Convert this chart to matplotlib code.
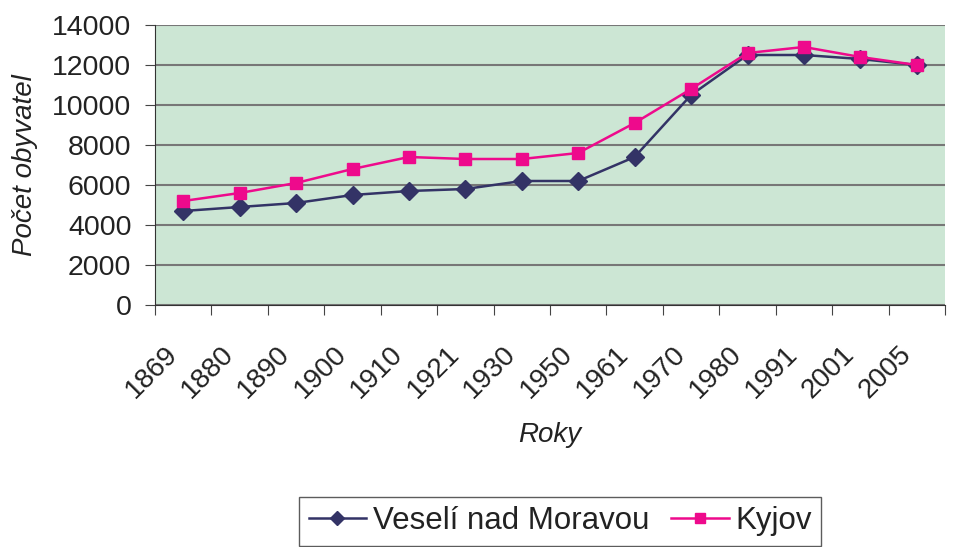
import matplotlib
matplotlib.use("Agg")
import matplotlib.pyplot as plt
import matplotlib.transforms as mtransforms
import numpy as np

years = ["1869", "1880", "1890", "1900", "1910", "1921", "1930", "1950",
         "1961", "1970", "1980", "1991", "2001", "2005"]
veseli = [4700, 4900, 5100, 5500, 5700, 5800, 6200, 6200, 7400, 10500, 12500, 12500, 12300, 12000]
kyjov = [5200, 5600, 6100, 6800, 7400, 7300, 7300, 7600, 9100, 10800, 12600, 12900, 12400, 12000]

plt.rcParams['font.family'] = ['Liberation Sans', 'DejaVu Sans']

fig = plt.figure(figsize=(9.57, 5.47), dpi=100)
ax = fig.add_axes([155/957, 1-305/547, 790/957, 280/547])
ax.set_facecolor('#CCE6D4')

x = np.arange(len(years))
ax.plot(x, veseli, color='#333366', lw=1.8, marker='D', ms=9, label='Veselí nad Moravou', zorder=3)
ax.plot(x, kyjov, color='#EE0A8C', lw=1.8, marker='s', ms=9, label='Kyjov', zorder=4)

ax.set_ylim(0, 14000)
ax.set_yticks(np.arange(0, 14001, 2000))
ax.yaxis.grid(True, color='#777777', lw=1.5)
ax.set_axisbelow(True)
ax.set_xlim(-0.5, len(years) - 0.5)
ax.set_xticks(np.arange(-0.5, len(years)), minor=False)
ax.set_xticklabels([])
ax.set_xticks(x, minor=True)
ax.set_xticklabels(years, minor=True, rotation=45, ha='right', rotation_mode='anchor', fontsize=20, color='#222222')
ax.tick_params(axis='x', which='major', direction='out', length=7, color='#444444')
ax.tick_params(axis='x', which='minor', length=0, pad=12)
ax.tick_params(axis='y', direction='out', length=7, labelsize=20.5, labelcolor='#222222', color='#444444', pad=10)

offset = mtransforms.ScaledTranslation(-19/100, -19/100, fig.dpi_scale_trans)
for lbl in ax.get_xticklabels(minor=True):
    lbl.set_transform(lbl.get_transform() + offset)

for s in ['top', 'right']:
    ax.spines[s].set_visible(False)
ax.spines['left'].set_color('#333333')
ax.spines['bottom'].set_color('#333333')

ax.set_xlabel('Roky', fontsize=20, style='italic', color='#222222', labelpad=14)
ax.set_ylabel('Počet obyvatel', fontsize=20, style='italic', color='#222222', labelpad=10)

leg = fig.legend(loc='upper center', bbox_to_anchor=(560/957, 1-497/547), ncol=2,
                 fontsize=22.5, frameon=True, fancybox=False, edgecolor='#333333',
                 handlelength=1.85, columnspacing=0.7, handletextpad=0.2, borderpad=0.3,
                 borderaxespad=0, labelcolor='#222222')
leg.get_frame().set_linewidth(1)
for h in leg.legend_handles:
    h.set_markersize(7)

fig.savefig('out.png', dpi=100)
